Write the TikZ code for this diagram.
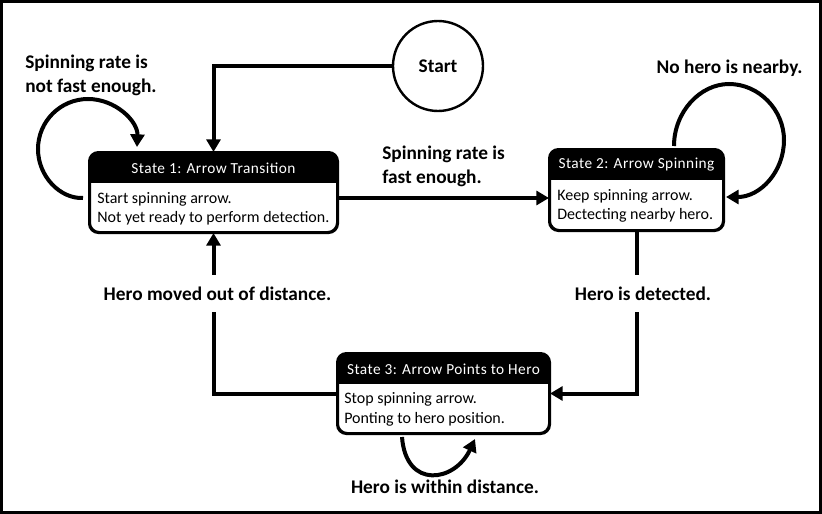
\documentclass[tikz,border=0pt]{standalone}
\usepackage{fontspec}
\setmainfont{Carlito}
\newfontfamily\headfont[LetterSpace=3]{Carlito}
\usetikzlibrary{arrows.meta}

\tikzset{
  state/.style={draw, line width=1.5pt, rounded corners=7pt, inner sep=0pt},
  flow/.style={line width=3pt, -{Triangle[length=9.5pt,width=10.5pt]}},
  wire/.style={line width=3pt},
  lbl/.style={font=\fontsize{14.5}{18}\selectfont\bfseries, inner sep=0pt},
  gap/.style={minimum height=27.75pt},
  body/.style={font=\fontsize{12}{14.5}\selectfont, align=left, anchor=west, inner sep=0pt},
  head/.style={font=\headfont\fontsize{11.5}{13}\selectfont, text=white, inner sep=0pt},
}

\begin{document}
\begin{tikzpicture}[x=0.75pt,y=0.75pt,yscale=-1,xscale=1]
\useasboundingbox (0,0) rectangle (822,514);

%Frame
\draw [line width=2.25pt] (1.5,1.5) rectangle (820.5,512.5);

%Shape: Circle
\node [lbl, draw, circle, line width=1.8pt, minimum size=67.5pt] (start) at (438,66) {Start};

%Shape: State 1
\node [state, minimum width=185.25pt, minimum height=59.25pt] (s1) at (213.5,192.5) {};
\begin{scope}
\clip [rounded corners=7pt] (s1.south west) rectangle (s1.north east);
\fill (s1.north west) rectangle (s1.east |- 0,183);
\end{scope}
\draw [line width=1.5pt, rounded corners=7pt] (s1.south west) rectangle (s1.north east);
% Text Node
\node [head] (h1) at (213.5,168) {State 1: Arrow Transition};
% Text Node
\node [body] (b1) at (97,208.5) {Start spinning arrow.\\Not yet ready to perform detection.};

%Shape: State 2
\node [state, minimum width=129.75pt, minimum height=60pt] (s2) at (636.5,190) {};
\begin{scope}
\clip [rounded corners=7pt] (s2.south west) rectangle (s2.north east);
\fill (s2.north west) rectangle (s2.east |- 0,180);
\end{scope}
\draw [line width=1.5pt, rounded corners=7pt] (s2.south west) rectangle (s2.north east);
% Text Node
\node [head] (h2) at (636.5,165) {State 2: Arrow Spinning};
% Text Node
\node [body] (b2) at (557,206) {Keep spinning arrow.\\Dectecting nearby hero.};

%Shape: State 3
\node [state, minimum width=158.25pt, minimum height=59.25pt] (s3) at (443.5,393.5) {};
\begin{scope}
\clip [rounded corners=7pt] (s3.south west) rectangle (s3.north east);
\fill (s3.north west) rectangle (s3.east |- 0,384);
\end{scope}
\draw [line width=1.5pt, rounded corners=7pt] (s3.south west) rectangle (s3.north east);
% Text Node
\node [head] (h3) at (443.5,369) {State 3: Arrow Points to Hero};
% Text Node
\node [body] (b3) at (344,409.5) {Stop spinning arrow.\\Ponting to hero position.};

% Text Node
\node [lbl, align=left, anchor=west] (lblslow) at (25,75.5) {Spinning rate is\\not fast enough.};
% Text Node
\node [lbl, align=left, anchor=west] (lblfast) at (382,166) {Spinning rate is\\fast enough.};
% Text Node
\node [lbl] (lblnearby) at (729.5,68) {No hero is nearby.};
% Text Node
\node [lbl, gap] (lbldet) at (643,293.5) {Hero is detected.};
% Text Node
\node [lbl, gap] (lblmoved) at (217.5,293.5) {Hero moved out of distance.};
% Text Node
\node [lbl] (lblwithin) at (445,487) {Hero is within distance.};

%Straight Lines
\draw [flow] (start.west) -| (s1.north);
\draw [flow] (s1.east |- 0,198) -- (s2.west |- 0,198);
\draw [wire] (s2.south) -- (s2.south |- lbldet.north);
\draw [flow] (s2.south |- lbldet.south) |- (s3.east);
\draw [wire] (s3.west) -| (s1.south |- lblmoved.south);
\draw [flow] (s1.south |- lblmoved.north) -- (s1.south);

%Curve Lines
\coordinate (l1a) at (83,198);
\coordinate (l1b) at (137,147);
\draw [flow] (l1a) .. controls (60.4,199) and (38,176.6) .. (38,149) .. controls (38,121.4) and (60.4,99) .. (88,99) .. controls (115.6,99) and (138,121.4) .. (l1b);
\coordinate (l2a) at (674,146);
\coordinate (l2b) at (726,197);
\draw [flow] (l2a) .. controls (674,112) and (700,84) .. (729,84) .. controls (759,84) and (784,110) .. (784,140) .. controls (784,172) and (760,197) .. (l2b);
\coordinate (l3a) at (402,437);
\coordinate (l3b) at (475,439);
\draw [flow] (l3a) .. controls (406,490) and (455,482) .. (l3b);

\end{tikzpicture}
\end{document}
